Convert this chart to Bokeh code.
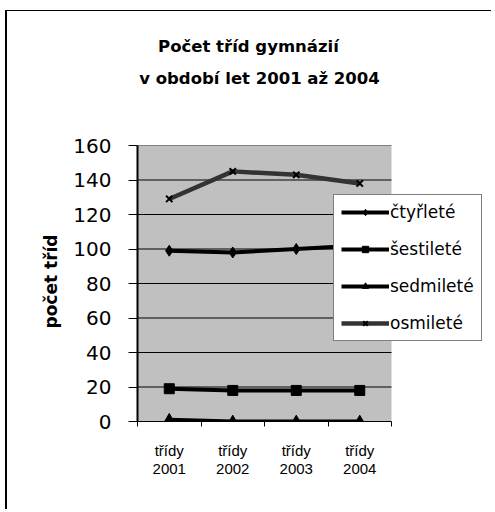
from bokeh.plotting import figure
from bokeh.models import (Range1d, FixedTicker, Legend, LegendItem, BoxAnnotation, Label, Title)
from bokeh.embed import file_html
from bokeh.resources import INLINE

# data
years = ["2001", "2002", "2003", "2004"]
tick_labels = ["třídy\n2001", "třídy\n2002", "třídy\n2003", "třídy\n2004"]
ctyrlete = [99, 98, 100, 102]
sestilete = [19, 18, 18, 18]
sedmilete = [1, 0, 0, 0]
osmilete = [129, 145, 143, 138]
series_names = ["čtyřleté", "šestileté", "sedmileté", "osmileté"]
y_ticks = [0, 20, 40, 60, 80, 100, 120, 140, 160]
title_lines = ["Počet tříd gymnázií", "v období let 2001 až 2004"]
y_title = "počet tříd"

xs = list(range(1, len(years) + 1))
x_lo, x_hi = 0.5, len(years) + 0.5
y_lo, y_hi = y_ticks[0], y_ticks[-1]

# layout in pixels (canvas is offset by the outer chart frame)
W, H = 486, 499
OX, OY = 7, 11                 # canvas origin on the page
PLOT_L, PLOT_R = 137 - OX, 391 - OX
PLOT_T, PLOT_B = 145 - OY, 421 - OY
px_per_x = (PLOT_R - PLOT_L) / (x_hi - x_lo)
px_per_y = (PLOT_B - PLOT_T) / (y_hi - y_lo)
x_end = x_lo + (W - PLOT_L) / px_per_x
y_end = y_lo + PLOT_B / px_per_y


def sx_to_x(px):
    return x_lo + (px - OX - PLOT_L) / px_per_x


def sy_to_y(py):
    return y_lo + (PLOT_B - (py - OY)) / px_per_y


p = figure(width=W, height=H, output_backend="svg", toolbar_location=None,
           x_range=Range1d(x_lo, x_end), y_range=Range1d(y_lo, y_end),
           min_border_left=PLOT_L, min_border_right=0,
           min_border_top=0, min_border_bottom=H - PLOT_B,
           styles={"border-left": "2px solid black", "border-top": "1px solid black",
                   "margin-left": "5px", "margin-top": "10px"})

p.background_fill_color = "white"
p.border_fill_color = "white"
p.outline_line_color = None

# plot area background
p.add_layout(BoxAnnotation(left=x_lo, right=x_hi, bottom=y_lo, top=y_hi,
                           fill_color="#C0C0C0", fill_alpha=1, line_color=None,
                           level="image"))

# grid lines limited to the plot area
p.xgrid.grid_line_color = None
p.ygrid.grid_line_color = None
grid_y = y_ticks[1:]
p.segment(x0=[x_lo] * len(grid_y), x1=[x_hi] * len(grid_y), y0=grid_y, y1=grid_y,
          line_color=["#808080" if t == y_hi else "black" for t in grid_y], line_width=1)

# y axis
ya = p.yaxis[0]
ya.bounds = (y_lo, y_hi)
ya.ticker = FixedTicker(ticks=y_ticks)
ya.axis_line_color = "black"
ya.axis_line_width = 2
ya.major_tick_out = 9
ya.major_tick_in = 0
ya.minor_tick_line_color = None
ya.major_tick_line_color = "black"
ya.major_label_text_font = "DejaVu Sans"
ya.major_label_text_font_size = "20px"
ya.major_label_text_color = "black"
ya.major_label_standoff = 17

# y axis title, placed along the plot area (not the whole frame)
p.add_layout(Title(text=y_title, align="left", vertical_align="bottom",
                   offset=93, standoff=19,
                   text_font="DejaVu Sans", text_font_size="17px",
                   text_font_style="bold", text_color="black"), "left")

# x axis
xa = p.xaxis[0]
xa.bounds = (x_lo, x_hi)
xa.ticker = FixedTicker(ticks=xs, minor_ticks=[x + 0.5 for x in [0] + xs])
xa.major_label_overrides = {x: t for x, t in zip(xs, tick_labels)}
xa.axis_line_color = "black"
xa.axis_line_width = 1
xa.major_tick_line_color = None
xa.minor_tick_out = 5
xa.minor_tick_in = 0
xa.minor_tick_line_color = "black"
xa.major_label_text_font = "Liberation Sans"
xa.major_label_text_font_size = "15px"
xa.major_label_text_line_height = 1.1
xa.major_label_text_color = "black"
xa.major_label_standoff = 14

# series
r1l = p.line(xs, ctyrlete, line_color="black", line_width=4)
r1m = p.scatter(xs, ctyrlete, marker="diamond", size=11, color="black")
r2l = p.line(xs, sestilete, line_color="black", line_width=4)
r2m = p.scatter(xs, sestilete, marker="square", size=10, color="black")
r3l = p.line(xs, sedmilete, line_color="black", line_width=4)
r3m = p.scatter(xs, sedmilete, marker="triangle", size=11, color="black")
r4l = p.line(xs, osmilete, line_color="#333333", line_width=4.5)
r4m = p.scatter(xs, osmilete, marker="x", size=9, line_color="black", line_width=2)

legend = Legend(items=[
    LegendItem(label=series_names[0], renderers=[r1l, r1m]),
    LegendItem(label=series_names[1], renderers=[r2l, r2m]),
    LegendItem(label=series_names[2], renderers=[r3l, r3m]),
    LegendItem(label=series_names[3], renderers=[r4l, r4m]),
], location=(333 - OX - PLOT_L, PLOT_B - (341 - OY)))
legend.border_line_color = "black"
legend.border_line_width = 1
legend.background_fill_color = "white"
legend.background_fill_alpha = 1
legend.padding = 7
legend.margin = 0
legend.spacing = 17
legend.glyph_height = 16
legend.label_height = 16
legend.glyph_width = 48
legend.label_standoff = 1
legend.label_text_font = "DejaVu Sans"
legend.label_text_font_size = "17px"
legend.label_text_color = "black"
p.add_layout(legend, "center")

# title (two centred lines)
for text, cx, base in [(title_lines[0], 248, 46), (title_lines[1], 259, 78)]:
    p.add_layout(Label(x=sx_to_x(cx), y=sy_to_y(base), text=text,
                       text_align="center", text_baseline="alphabetic",
                       text_font="DejaVu Sans", text_font_size="16.5px",
                       text_font_style="bold", text_color="black"))

open("out.html", "w").write(file_html(p, INLINE))
